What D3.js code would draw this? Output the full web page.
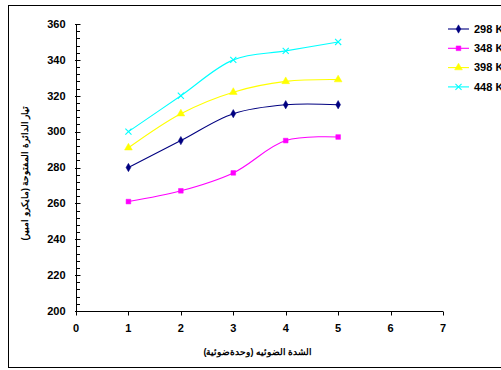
<!DOCTYPE html>
<html>
<head>
<meta charset="utf-8">
<script src="https://cdn.jsdelivr.net/npm/d3@7"></script>
<style>
  body { margin: 0; background: #fff; }
  svg { display: block; font-family: Arial, "Liberation Sans", sans-serif; }
</style>
</head>
<body>
<svg id="chart" width="501" height="370"></svg>
<script>
const xValues = [1, 2, 3, 4, 5];
const seriesNames = ["298 K", "348 K", "398 K", "448 K"];
const values298 = [280, 295, 310, 315, 315];
const values348 = [261, 267, 277, 295, 297];
const values398 = [291, 310, 322, 328, 329];
const values448 = [300, 320, 340, 345, 350];
const xTicks = [0, 1, 2, 3, 4, 5, 6, 7];
const yTicks = [200, 220, 240, 260, 280, 300, 320, 340, 360];

const seriesColors = ["#000080", "#ff00ff", "#ffff00", "#00ffff"];
const seriesShapes = ["diamond", "square", "triangle", "cross"];
const seriesValues = [values298, values348, values398, values448];

const svg = d3.select("#chart");

// outer frame (cut off at the right)
svg.append("rect")
  .attr("x", 8.5).attr("y", 5.5)
  .attr("width", 520).attr("height", 362)
  .attr("fill", "none").attr("stroke", "#000").attr("stroke-width", 1);

const x = d3.scaleLinear().domain([0, 7]).range([76, 443]);
const y = d3.scaleLinear().domain([200, 360]).range([311, 24]);

// y axis
const yAxis = svg.append("g").attr("transform", "translate(76.5,0)");
yAxis.append("line").attr("y1", y(360)).attr("y2", y(200)).attr("stroke", "#000");
yAxis.selectAll("line.minor")
  .data(d3.range(200, 361, 4))
  .join("line")
  .attr("class", "minor")
  .attr("x1", 0).attr("x2", 3.5)
  .attr("y1", d => Math.round(y(d)) + 0.5).attr("y2", d => Math.round(y(d)) + 0.5)
  .attr("stroke", "#000");
yAxis.selectAll("line.major")
  .data(yTicks)
  .join("line")
  .attr("class", "major")
  .attr("x1", -1.5).attr("x2", 4)
  .attr("y1", d => Math.round(y(d)) + 0.5).attr("y2", d => Math.round(y(d)) + 0.5)
  .attr("stroke", "#000");
yAxis.selectAll("text")
  .data(yTicks)
  .join("text")
  .attr("x", -11).attr("y", d => y(d))
  .attr("dy", "0.35em")
  .attr("text-anchor", "end")
  .attr("font-size", 11).attr("font-weight", "bold")
  .text(d => d);

// x axis
const xAxis = svg.append("g").attr("transform", `translate(0,${Math.round(y(200)) + 0.5})`);
xAxis.append("line").attr("x1", x(0)).attr("x2", x(7)).attr("stroke", "#000");
xAxis.selectAll("line.tick")
  .data(xTicks)
  .join("line")
  .attr("class", "tick")
  .attr("x1", d => Math.round(x(d)) + 0.5).attr("x2", d => Math.round(x(d)) + 0.5)
  .attr("y1", 0).attr("y2", 4)
  .attr("stroke", "#000");
xAxis.selectAll("text")
  .data(xTicks)
  .join("text")
  .attr("x", d => x(d)).attr("y", 20)
  .attr("text-anchor", "middle")
  .attr("font-size", 11).attr("font-weight", "bold")
  .text(d => d);

// axis titles
svg.append("text")
  .attr("x", 258).attr("y", 355)
  .attr("text-anchor", "middle")
  .attr("font-size", 9).attr("font-weight", "bold")
  .attr("direction", "rtl")
  .text("الشدة الضوئيه (وحدةضوئية)");

svg.append("text")
  .attr("transform", "translate(28,173) rotate(-90)")
  .attr("text-anchor", "middle")
  .attr("font-size", 9).attr("font-weight", "bold")
  .attr("direction", "rtl")
  .text("تيار الدائرة المفتوحة (مايكرو امبير)");

const symbolFor = shape => {
  if (shape === "diamond") return d3.symbol(d3.symbolDiamond, 20)();
  if (shape === "square") return d3.symbol(d3.symbolSquare, 22)();
  if (shape === "triangle") return d3.symbol(d3.symbolTriangle, 26)();
  return d3.symbol(d3.symbolX, 26)();
};

const line = d3.line()
  .x((d, i) => x(xValues[i]))
  .y(d => y(d))
  .curve(d3.curveCatmullRom.alpha(0.5));

seriesValues.forEach((vals, s) => {
  const g = svg.append("g");
  g.append("path")
    .attr("d", line(vals))
    .attr("fill", "none")
    .attr("stroke", seriesColors[s])
    .attr("stroke-width", 1.1);
  g.selectAll("path.m")
    .data(vals)
    .join("path")
    .attr("class", "m")
    .attr("transform", (d, i) => `translate(${x(xValues[i])},${y(d)})`)
    .attr("d", symbolFor(seriesShapes[s]))
    .attr("fill", seriesShapes[s] === "cross" ? "none" : seriesColors[s])
    .attr("stroke", seriesColors[s])
    .attr("stroke-width", seriesShapes[s] === "cross" ? 1.1 : 0.5);
});

// legend
const legend = svg.append("g");
seriesNames.forEach((name, s) => {
  const ly = 29 + s * 19.3;
  legend.append("line")
    .attr("x1", 448).attr("x2", 469)
    .attr("y1", ly).attr("y2", ly)
    .attr("stroke", seriesColors[s]).attr("stroke-width", 1.1);
  legend.append("path")
    .attr("transform", `translate(458.5,${ly})`)
    .attr("d", symbolFor(seriesShapes[s]))
    .attr("fill", seriesShapes[s] === "cross" ? "none" : seriesColors[s])
    .attr("stroke", seriesColors[s])
    .attr("stroke-width", seriesShapes[s] === "cross" ? 1.1 : 0.5);
  legend.append("text")
    .attr("x", 474).attr("y", ly)
    .attr("dy", "0.35em")
    .attr("font-size", 11).attr("font-weight", "bold")
    .text(name);
});
</script>
</body>
</html>
